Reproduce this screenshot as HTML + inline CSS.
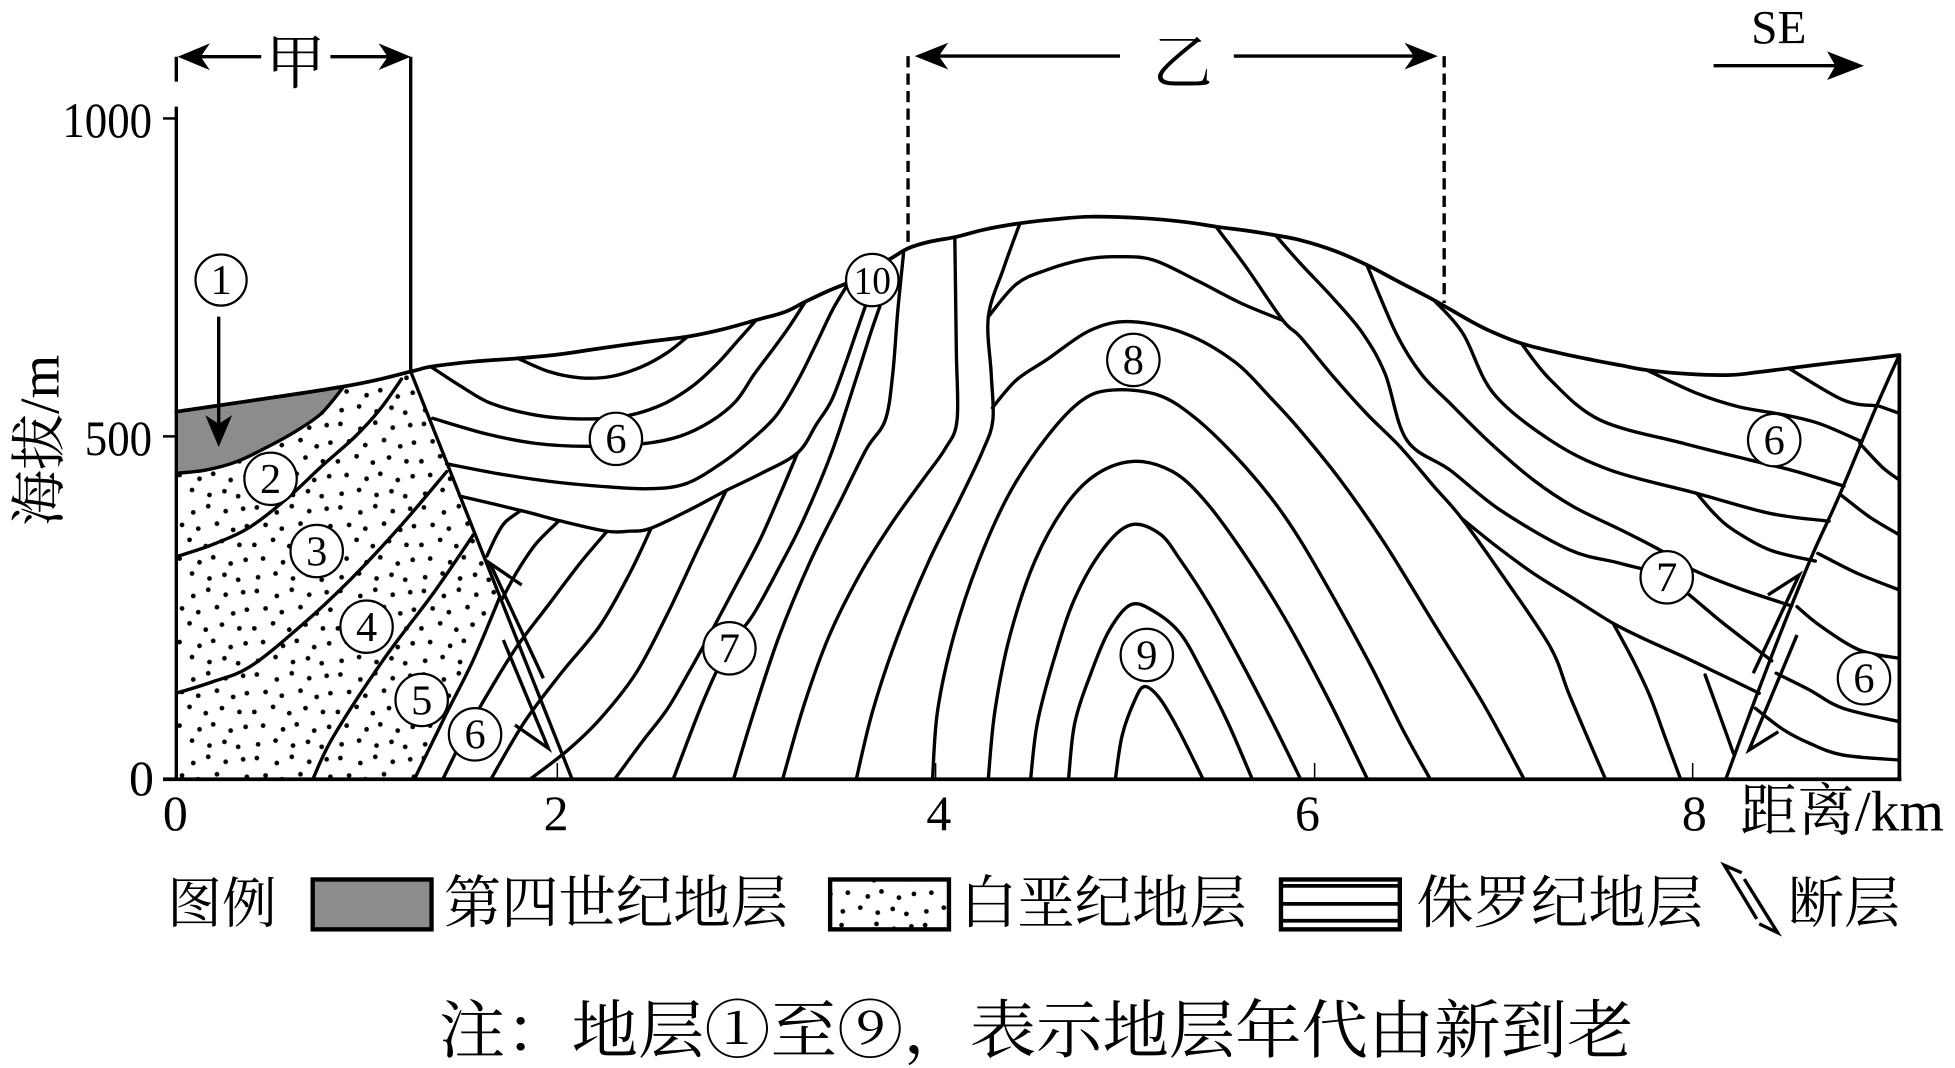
<!DOCTYPE html>
<html><head><meta charset="utf-8">
<style>
html,body{margin:0;padding:0;background:#fff;}
svg{display:block;}
.s,.f{fill:none;stroke:#000;stroke-width:2.7;stroke-linejoin:round;stroke-linecap:round;}
.f{stroke-linejoin:miter;stroke-linecap:butt;}
.t,.c{font-family:"Liberation Serif","Noto Serif CJK SC","Noto Serif SC","Source Han Serif SC","AR PL UMing CN","Noto Sans CJK SC",serif;fill:#000;}
</style></head>
<body>
<svg width="1955" height="1068" viewBox="0 0 1568 856.6" xmlns="http://www.w3.org/2000/svg" font-family="Liberation Serif, Noto Serif CJK SC, Noto Serif SC, serif">
<defs>
<pattern id="dots" width="67" height="67" patternUnits="userSpaceOnUse">
<g fill="#000">
<circle cx="5" cy="5" r="1.9"/><circle cx="21" cy="9" r="1.9"/><circle cx="33" cy="4" r="1.9"/><circle cx="47" cy="8" r="1.9"/><circle cx="61" cy="6" r="1.9"/>
<circle cx="12" cy="19" r="1.9"/><circle cx="25" cy="22" r="1.9"/><circle cx="40" cy="18" r="1.9"/><circle cx="53" cy="23" r="1.9"/><circle cx="64" cy="20" r="1.9"/>
<circle cx="3" cy="35" r="1.9"/><circle cx="18" cy="31" r="1.9"/><circle cx="31" cy="36" r="1.9"/><circle cx="44" cy="32" r="1.9"/><circle cx="58" cy="35" r="1.9"/>
<circle cx="10" cy="46" r="1.9"/><circle cx="26" cy="49" r="1.9"/><circle cx="37" cy="45" r="1.9"/><circle cx="51" cy="50" r="1.9"/><circle cx="63" cy="47" r="1.9"/>
<circle cx="6" cy="61" r="1.9"/><circle cx="20" cy="58" r="1.9"/><circle cx="34" cy="62" r="1.9"/><circle cx="46" cy="59" r="1.9"/><circle cx="57" cy="63" r="1.9"/>
</g>
</pattern>
</defs>

<!-- fills -->
<polygon points="141.4,330.2 275.7,310 257.8,331.5 237,346 214.8,358.3 189.8,370.3 165,377 141.4,379.6" fill="#8c8c8c"/>
<polygon points="141.4,379.6 141.4,625 332.8,625 358.2,572 379.6,529.3 401,478.5 329.4,298 275.7,310 257.8,331.5 237,346 214.8,358.3 189.8,370.3 165,377" fill="url(#dots)"/>

<!-- Cretaceous/Quaternary boundaries -->
<polyline class="s" points="141.4,379.6 165,377 189.8,370.3 214.8,358.3 237,346 257.8,331.5 275.7,310"/>
<polyline class="s" points="141.4,446.5 170,437 200,423 230,400 258,374 285,350 305,328 322,304"/>
<polyline class="s" points="141.4,556 170,547 200.5,534.7 240.6,502.6 280.7,465.2 320.8,422.4 358.2,378.3"/>
<polyline class="s" points="251.3,624 267.3,590.8 307.4,529.3 347.5,475.8 379.6,429"/>
<polyline class="s" points="332.8,624 358.2,572 379.6,529.3 401,478.5"/>

<!-- left fault -->
<line x1="329.4" y1="298" x2="458.5" y2="624" stroke="#000" stroke-width="2.7"/>
<polyline class="f" points="418.4,469.2 393,451.8 435.8,544"/>
<polyline class="f" points="403.7,513.3 439.8,600.2 413,581.5"/>

<!-- syncline lines -->
<polyline class="s" points="415.3,287.4 440,298 465,303 490,302 515,294 535,283 551.4,270"/>
<polyline class="s" points="345.5,294.1 370,310 393.8,323.5 430,333 465,336 500,334 530,325 555,310 575,292 592,273 606.5,256.7"/>
<polyline class="s" points="347,335.5 390,348 429.6,355.6 470,358 515,356 545,350 570,338 590,322 605,300 620,280 633,262 645.9,242"/>
<polyline class="s" points="358.2,372 400,380 440,386 481,390 520,392 550,388 578,372 600,355 622,334 640,305 655,275 668,248 680,228"/>
<polyline class="s" points="369.3,398 420,410 449,417.7 486,426 505,426 522,423.7 555,408 582.4,393.4 610,380 639.7,363.2 655,340 667,321 678,292 688,263 696,240"/>

<!-- arcs near left fault -->
<polyline class="s" points="390.5,446 398,430 405,419 417,410"/>
<polyline class="s" points="403,480 415,458 430,436 448,418"/>
<polyline class="s" points="355.6,624 375,585 395,550 415,518 440,485 465,452 486.4,426.7"/>
<polyline class="s" points="394.3,624 420,580 450,540 481,502 505,460 522.2,423.7"/>
<polyline class="s" points="426.4,624 455,602 481,577 510,540 535,493 560,440 582.4,393.4"/>
<polyline class="s" points="493.7,624 515,595 535,569 552,540 569.5,508.5 590,470 609.6,432.8 625,398 639.7,363.2"/>

<!-- left limb lines -->
<polyline class="s" points="540.3,624 563.8,563 583.8,520.6 603.9,493.3 625,455 644,417.7 666.9,363.2 687,302.6 699,265 707,242"/>
<polyline class="s" points="588.6,624 605,570 625,510 650,450 675,400 695,360 710,337 716,300 720,250 724.7,203"/>
<polyline class="s" points="628,624 645,565 665,510 690,460 715,420 740,385 758,360 767.6,337 767,280 765.8,190.4"/>
<polyline class="s" points="687,624 700,570 720,510 745,450 770,400 788,362 796.3,337 795,300 792.7,254 805,215 817.8,179.7"/>

<!-- arches -->
<polyline class="s" points="792.7,254 815,228 839.2,216.6 870,208 896.5,205.9 925,208.5 960,225 995,243 1029,257"/>
<polyline class="s" points="796,327 815,305 839.2,288.7 875,264.7 907.3,258 950.2,267.4 990,290 1020,320 1042.7,345 1075,385 1110,435 1150,500 1190,565 1221.9,624"/>
<polyline class="s" points="748,624 752,570 765,510 785,450 810,395 840,350 867.9,321 893,312.8 928.7,316.8 957.4,334.2 990,365 1020,400 1042.7,433 1070,480 1100,535 1125,585 1146.6,624"/>
<polyline class="s" points="792.7,624 798,570 810,510 830,450 855,405 880,380 910,370 940,378 965,400 995,440 1030,495 1065,560 1096.3,624"/>
<polyline class="s" points="826.7,624 832,580 845,530 862,480 885,440 907,421 930,428 946.6,449 970,485 995,530 1020,578 1042.7,624"/>
<polyline class="s" points="857.1,624 862,580 875,540 890,505 907,485 925,490 946.6,508 965,540 985,580 1004,624"/>
<polyline class="s" points="894.7,624 900,590 910,562 918,550.7 930,560 945,585 964.5,624"/>

<!-- right limb -->
<polyline class="s" points="975.3,181.8 1000,215 1029,257 1042.7,270 1069.4,302.1 1096.3,332 1122.9,358.3 1150,390 1172.4,415.8 1205.8,462.6 1243.3,518.7 1259.3,558.8 1287.3,624"/>
<polyline class="s" points="1172.4,415.8 1200,438 1229.9,459.9 1262,480 1293.9,500 1320,513 1350.2,526.7 1380,541 1411,556"/>
<polyline class="s" points="1293.9,500 1310,530 1323.5,558.8 1335,590 1347.6,624"/>
<polyline class="s" points="1367.6,541.4 1378,570 1390.3,604.3"/>
<polyline class="s" points="1023.6,189.3 1042.7,211 1070,240 1093,267.4 1111,300 1128.3,353 1163,377 1203.1,409 1259.3,441.2 1300,452 1336.8,464 1382.3,500 1421,530"/>
<polyline class="s" points="1096.3,212.5 1119.8,267.4 1140,300 1163,323.5 1195,355 1229.9,385 1262,406.4 1300,425 1331.5,441.2 1358.2,457.2 1395,472 1437,486"/>
<polyline class="s" points="1149.9,240.6 1173.3,267.4 1197.8,315.5 1243.3,353 1291.4,377 1360.9,395.7 1419.7,411.8 1467,418"/>
<polyline class="s" points="1360.9,395.7 1375,412 1390.3,425.1 1419.7,441.2 1456,450"/>
<polyline class="s" points="1220.2,275.4 1243.7,304.8 1283.4,336.9 1350.2,355.6 1403.7,369 1440,378 1479,390"/>
<polyline class="s" points="1320.8,296.8 1361,315.5 1394.4,326.2 1431.3,332.8 1460,340 1493.3,354.3"/>
<polyline class="s" points="1434.7,295.4 1478.2,320.8 1505,325.5"/>

<!-- right of right fault -->
<polyline class="s" points="1505,325 1523.4,331.5"/>
<polyline class="s" points="1491.6,355.6 1510,375 1523.4,385"/>
<polyline class="s" points="1476.5,397 1500,415 1523.4,429"/>
<polyline class="s" points="1458,443.8 1490,460 1523.4,473.2"/>
<polyline class="s" points="1441.3,486.6 1460,502 1491.6,521.4 1523.4,528"/>
<polyline class="s" points="1424.6,540 1451.4,553.4 1478,568 1523.4,578.8"/>
<polyline class="s" points="1407.9,568.1 1430,585 1451.4,596.2 1478.2,605.6 1523.4,609.6"/>

<!-- right fault -->
<polyline class="s" points="1523.4,284.7 1505,326 1475,398 1453,446.5 1428,508 1404.5,569.5 1384.4,624.3"/>
<polyline class="f" points="1418,477.2 1443,461.2 1406.2,540"/>
<polyline class="f" points="1441.3,509.3 1402.8,601.6 1426.3,586.9"/>

<!-- surface -->
<polyline class="s" style="stroke-width:3" points="141.4,330.2 275.7,310 329.4,298 345.5,294.1 380,290 415.3,287.4 450,284 481.2,279.4 520,274 551.4,270 580,264 606.5,256.7 630,250 645.9,242 665,233 681.7,225.9 700,215 715,207 728.3,199.2 745,194 767.6,189.8 790,184 817.8,179.1 845,176 875,173.8 918,175.1 950,178 975.3,181.8 1000,185 1021.8,188.5 1042.7,192.5 1070,201 1096.3,212.5 1120,225 1149.9,240.6 1175,255 1193.5,264.7 1220.2,275.4 1250,283 1277.2,288.7 1300,293 1320.8,296.8 1355,300 1387.7,300.8 1410,298.5 1434.7,295.4 1470,291 1501.7,287.4 1523.4,284.7"/>

<!-- frame -->
<line x1="1523.4" y1="284.7" x2="1523.4" y2="626.5" stroke="#000" stroke-width="3"/>
<line x1="130.7" y1="625" x2="1525" y2="625" stroke="#000" stroke-width="3"/>
<line x1="141.4" y1="45.5" x2="141.4" y2="65.5" stroke="#000" stroke-width="2.7"/>
<line x1="141.4" y1="85.5" x2="141.4" y2="625" stroke="#000" stroke-width="2.7"/>
<line x1="130.7" y1="95" x2="141.4" y2="95" stroke="#000" stroke-width="2"/>
<line x1="130.7" y1="350" x2="141.4" y2="350" stroke="#000" stroke-width="2"/>
<g stroke="#000" stroke-width="1.2">
<line x1="447" y1="612" x2="447" y2="625"/>
<line x1="750.4" y1="612" x2="750.4" y2="625"/>
<line x1="1054.4" y1="612" x2="1054.4" y2="625"/>
<line x1="1357.6" y1="612" x2="1357.6" y2="625"/>
</g>

<!-- 甲 -->
<line x1="329.4" y1="45.5" x2="329.4" y2="298" stroke="#000" stroke-width="2.7"/>
<line x1="150" y1="45.5" x2="209.5" y2="45.5" stroke="#000" stroke-width="2.7"/>
<line x1="265" y1="45.5" x2="320" y2="45.5" stroke="#000" stroke-width="2.7"/>
<polygon points="142.5,45.5 168.3,34.8 161,45.5 168.3,56.2"/>
<polygon points="329.4,45.5 303.6,34.8 311,45.5 303.6,56.2"/>
<text class="t" font-family="Liberation Serif, Noto Serif CJK SC, Noto Serif SC, serif" x="237" y="67" font-size="48" text-anchor="middle">甲</text>

<!-- 乙 -->
<line x1="728.3" y1="45" x2="728.3" y2="199.2" stroke="#000" stroke-width="2.7" stroke-dasharray="9,5"/>
<line x1="1158.3" y1="45" x2="1158.3" y2="243" stroke="#000" stroke-width="2.7" stroke-dasharray="9,5"/>
<line x1="745" y1="45" x2="898.3" y2="45" stroke="#000" stroke-width="2.7"/>
<line x1="989.6" y1="45" x2="1140" y2="45" stroke="#000" stroke-width="2.7"/>
<polygon points="733.6,45 760.5,34.3 753,45 760.5,55.7"/>
<polygon points="1153.2,45 1126.5,34.3 1134,45 1126.5,55.7"/>
<text class="t" font-family="Liberation Serif, Noto Serif CJK SC, Noto Serif SC, serif" x="948.5" y="67" font-size="48" text-anchor="middle">乙</text>

<!-- SE -->
<text class="t" font-family="Liberation Serif, serif" x="1404.5" y="34.8" font-size="38">SE</text>
<line x1="1374.4" y1="52.7" x2="1475" y2="52.7" stroke="#000" stroke-width="2.7"/>
<polygon points="1495,52.7 1465.5,41.2 1472,52.7 1465.5,64.2"/>

<!-- arrow 1 -->
<line x1="175.4" y1="254" x2="175.4" y2="342" stroke="#000" stroke-width="2.7"/>
<polygon points="175.4,358.5 164.6,333 175.4,340 186.2,333"/>

<!-- circled labels -->
<g stroke="#000" stroke-width="1.8" fill="#fff">
<circle cx="177.3" cy="224.6" r="20.5"/>
<circle cx="217" cy="384" r="21"/>
<circle cx="254" cy="442" r="21"/>
<circle cx="294" cy="502.6" r="21"/>
<circle cx="338.2" cy="561.4" r="21"/>
<circle cx="381" cy="589" r="21"/>
<circle cx="494" cy="352" r="21"/>
<circle cx="585" cy="520" r="21"/>
<circle cx="909" cy="288.7" r="21"/>
<circle cx="919.8" cy="525.3" r="21"/>
<circle cx="699.6" cy="224.6" r="21"/>
<circle cx="1423" cy="353" r="21"/>
<circle cx="1336.8" cy="463" r="21"/>
<circle cx="1495" cy="544" r="21"/>
</g>
<g class="c" font-family="Liberation Serif, serif" font-size="34" text-anchor="middle">
<text x="177.3" y="236">1</text>
<text x="217" y="395.5">2</text>
<text x="254" y="453.5">3</text>
<text x="294" y="514">4</text>
<text x="338.2" y="573">5</text>
<text x="381" y="600.5">6</text>
<text x="494" y="363.5">6</text>
<text x="585" y="531.5">7</text>
<text x="909" y="300">8</text>
<text x="919.8" y="537">9</text>
<text x="699.6" y="235.5" font-size="31" textLength="30" lengthAdjust="spacingAndGlyphs">10</text>
<text x="1423" y="364.5">6</text>
<text x="1336.8" y="474.5">7</text>
<text x="1495" y="555.5">6</text>
</g>

<!-- axis labels -->
<g class="t" font-family="Liberation Serif, serif" font-size="40">
<text x="122" y="110" text-anchor="end" textLength="72" lengthAdjust="spacingAndGlyphs">1000</text>
<text x="122" y="365" text-anchor="end" textLength="54" lengthAdjust="spacingAndGlyphs">500</text>
<text x="123.5" y="637.6" text-anchor="end">0</text>
<text x="140.6" y="665.7" text-anchor="middle">0</text>
<text x="446" y="665.7" text-anchor="middle">2</text>
<text x="753" y="665.7" text-anchor="middle">4</text>
<text x="1048.7" y="665.7" text-anchor="middle">6</text>
<text x="1359" y="665.7" text-anchor="middle">8</text>
</g>
<text class="t" font-family="Liberation Serif, Noto Serif CJK SC, Noto Serif SC, serif" x="1395.6" y="666" font-size="46">距离/km</text>
<text class="t" font-family="Liberation Serif, Noto Serif CJK SC, Noto Serif SC, serif" font-size="45" transform="translate(47,422) rotate(-90)">海拔/m</text>

<!-- legend -->
<g class="t" font-family="Liberation Serif, Noto Serif CJK SC, Noto Serif SC, serif">
<text x="134" y="740" font-size="44">图例</text>
<text x="356" y="740" font-size="46">第四世纪地层</text>
<text x="770" y="740" font-size="46">白垩纪地层</text>
<text x="1136" y="740" font-size="46">侏罗纪地层</text>
<text x="1434" y="740" font-size="45">断层</text>
</g>
<rect x="250.8" y="705.4" width="95.3" height="40" fill="#8c8c8c" stroke="#000" stroke-width="3.5"/>
<rect x="665.8" y="705.4" width="95.3" height="40" fill="url(#dots)" stroke="#000" stroke-width="3.5"/>
<rect x="1027.4" y="705.4" width="95.3" height="40" fill="#fff" stroke="#000" stroke-width="3.5"/>
<g stroke="#000" stroke-width="3">
<line x1="1027.4" y1="710.5" x2="1122.7" y2="710.5"/>
<line x1="1027.4" y1="725" x2="1122.7" y2="725"/>
<line x1="1027.4" y1="738.5" x2="1122.7" y2="738.5"/>
</g>
<polyline class="f" points="1397,700 1383,694 1409,737"/>
<polyline class="f" points="1399,705 1425.7,748 1411,741"/>

<!-- note -->
<text class="t" font-family="Liberation Serif, Noto Serif CJK SC, Noto Serif SC, serif" x="352" y="844" font-size="51" textLength="958" lengthAdjust="spacingAndGlyphs">注：地层①至⑨，表示地层年代由新到老</text>
</svg>
<script>
(function(){
var pls=document.querySelectorAll('polyline.s');
for(var k=0;k<pls.length;k++){
 var pl=pls[k];
 var a=pl.getAttribute('points').trim().split(/\s+/).map(function(p){return p.split(',').map(Number);});
 if(a.length<3) continue;
 var d='M'+a[0][0]+','+a[0][1];
 for(var i=0;i<a.length-1;i++){
  var p0=a[i-1]||a[i],p1=a[i],p2=a[i+1],p3=a[i+2]||a[i+1];
  var c1x=p1[0]+(p2[0]-p0[0])/6,c1y=p1[1]+(p2[1]-p0[1])/6,c2x=p2[0]-(p3[0]-p1[0])/6,c2y=p2[1]-(p3[1]-p1[1])/6;
  d+='C'+c1x.toFixed(2)+','+c1y.toFixed(2)+' '+c2x.toFixed(2)+','+c2y.toFixed(2)+' '+p2[0]+','+p2[1];
 }
 var p=document.createElementNS('http://www.w3.org/2000/svg','path');
 p.setAttribute('d',d);
 p.setAttribute('class','s');
 var st=pl.getAttribute('style'); if(st) p.setAttribute('style',st);
 pl.parentNode.replaceChild(p,pl);
}
})();
</script>
</body></html>
